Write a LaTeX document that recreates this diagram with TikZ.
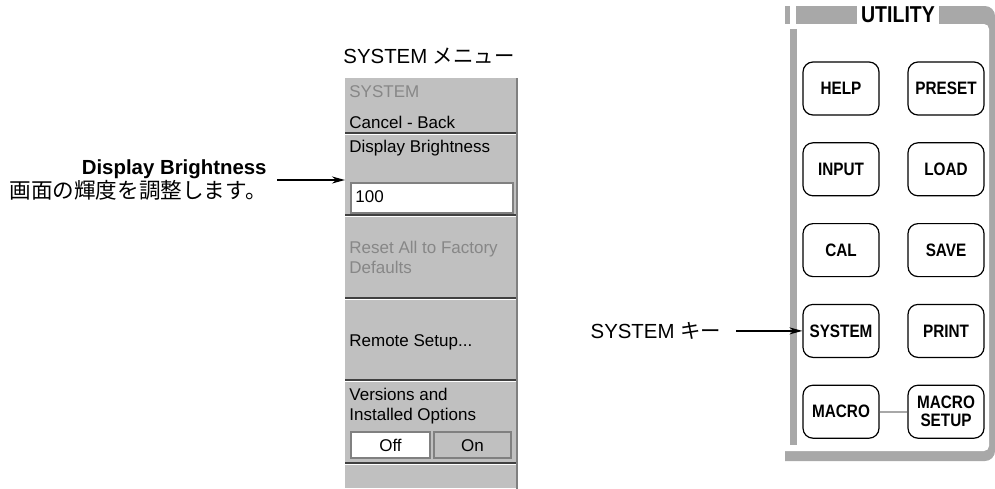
\documentclass[tikz,border=0pt]{standalone}
\usepackage{fontspec}
\setmainfont{Liberation Sans}
\newfontfamily\cjk{Noto Sans CJK JP}
\newfontfamily\keyfont[FakeStretch=0.85]{Liberation Sans}
\usepackage{tikz}
\usetikzlibrary{arrows.meta, positioning}
\definecolor{panelgray}{RGB}{192,192,192}
\definecolor{framegray}{RGB}{168,168,168}
\definecolor{dimtext}{RGB}{135,135,135}

\begin{document}
\begin{tikzpicture}[
    x=0.5pt, y=-0.5pt,
    node distance=13.3pt and 13.9pt,
    keybtn/.style={rectangle, draw, rounded corners=5pt, line width=0.6pt, minimum width=38pt, minimum height=26.5pt, inner sep=0pt, align=center, font=\keyfont\bfseries\fontsize{9}{9}\selectfont},
    panel/.style={rectangle, fill=panelgray, minimum width=85.5pt, minimum height=205pt, inner sep=0pt},
    menutxt/.style={anchor=west, inner sep=0pt, align=left, font=\fontsize{8.5}{10}\selectfont},
    greyed/.style={text=dimtext},
    fieldbox/.style={rectangle, draw=gray, fill=white, line width=0.8pt, minimum width=81pt, minimum height=15pt, inner sep=0pt},
    togbox/.style={rectangle, draw=gray, line width=0.6pt, minimum height=13pt, inner sep=0pt, text height=6.2pt, text depth=0pt, font=\fontsize{8.5}{10}\selectfont},
    callout/.style={align=right, font=\fontsize{10.2}{10.2}\selectfont},
    sepdark/.style={line width=0.6pt, black!75},
    seplight/.style={line width=0.5pt, white},
    arr/.style={-{Stealth[length=6.5pt, width=3.5pt]}, line width=0.8pt},
]
    \useasboundingbox (0,0) rectangle (995,488);

    \node[font=\fontsize{10.2}{12}\selectfont] (menutitle) at (429,56) {SYSTEM {\cjk メニュー}};
    \node[panel, anchor=north west] (menu) at (345,78) {};
    \draw[line width=1pt, black!50] (menu.north east) -- (menu.south east);

    \draw[sepdark] (345,133) -- (516,133);
    \draw[seplight] (345,134.5) -- (516,134.5);
    \draw[sepdark] (345,215) -- (516,215);
    \draw[seplight] (345,216.5) -- (516,216.5);
    \draw[sepdark] (345,298) -- (516,298);
    \draw[seplight] (345,299.5) -- (516,299.5);
    \draw[sepdark] (345,380) -- (516,380);
    \draw[seplight] (345,381.5) -- (516,381.5);
    \draw[sepdark] (345,463) -- (516,463);
    \draw[seplight] (345,464.5) -- (516,464.5);

    \node[menutxt, greyed] (msys) at (349,92) {SYSTEM};
    \node[menutxt] (mcancel) at (349,122) {Cancel - Back};
    \node[menutxt] (mbright) at (349,148) {Display Brightness};
    \node[fieldbox, anchor=north west] (field) at (350,182) {};
    \node[menutxt] (fval) at (355,197) {100};
    \node[menutxt, greyed] (mreset) at (349,257) {Reset All to Factory\\Defaults};
    \node[menutxt] (mremote) at (349,342) {Remote Setup...};
    \node[menutxt] (mversion) at (349,406) {Versions and\\Installed Options};
    \node[togbox, fill=white, minimum width=39.5pt] (off) at (390.5,445) {Off};
    \node[togbox, fill=panelgray, minimum width=38.5pt] (on) at (472.5,445) {On};

    \node[callout, anchor=east, inner xsep=5pt] (brt) at (277,180) {\textbf{Display Brightness}\\{\cjk\fontsize{10.8}{10.2}\selectfont 画面の輝度を調整します。}};
    \draw[arr] (brt.east) -- (brt.east -| menu.west);

    \fill[framegray] (785,6) -- (985,6) arc[start angle=90, end angle=0, radius=5pt] -- (995,451) arc[start angle=0, end angle=-90, radius=5pt] -- (785,461) -- cycle;
    \fill[white, rounded corners=2.5pt] (780,24) rectangle (989,451);
    \fill[white] (790,5) rectangle (796,24.5);
    \fill[white] (857,5) rectangle (939,24.5);
    \fill[framegray] (790,29) rectangle (797,445);
    \node[font=\keyfont\bfseries\fontsize{11.5}{12}\selectfont, inner sep=0pt] (utility) at (898,15) {UTILITY};

    \node[keybtn] (help) at (841,88.5) {HELP};
    \node[keybtn, right=of help] (preset) {PRESET};
    \node[keybtn, below=of help] (input) {INPUT};
    \node[keybtn, below=of preset] (load) {LOAD};
    \node[keybtn, below=of input] (cal) {CAL};
    \node[keybtn, below=of load] (save) {SAVE};
    \node[keybtn, below=of cal] (system) {SYSTEM};
    \node[keybtn, below=of save] (print) {PRINT};
    \node[keybtn, below=of system] (macro) {MACRO};
    \node[keybtn, below=of print] (macrosetup) {MACRO\\SETUP};
    \draw[framegray, line width=1pt] (macro) -- (macrosetup);

    \node[callout, inner xsep=7.5pt, left=33pt of system] (syslbl) {SYSTEM {\cjk キー}};
    \draw[arr] (syslbl.east) -- (system.west);
\end{tikzpicture}
\end{document}
